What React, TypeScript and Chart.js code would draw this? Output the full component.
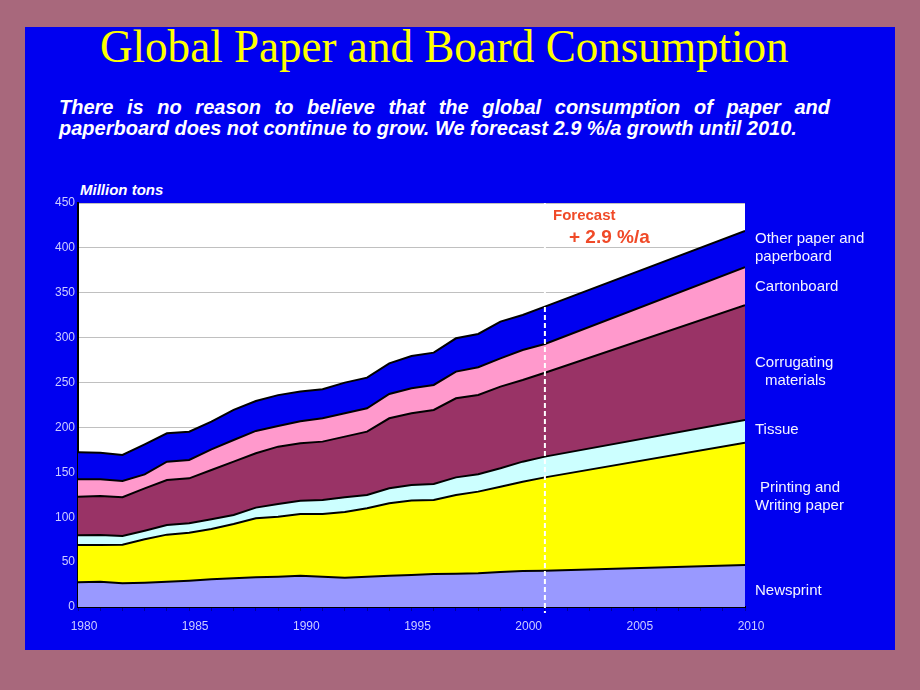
import React, { useEffect, useRef } from "react";
import { Chart, registerables } from "chart.js";
Chart.register(...registerables);

const years = [1980, 1981, 1982, 1983, 1984, 1985, 1986, 1987, 1988, 1989, 1990, 1991, 1992, 1993, 1994, 1995, 1996, 1997, 1998, 1999, 2000, 2001, 2010];
const newsprint = [27.5, 28.2, 26.4, 27.1, 28.2, 29.3, 30.8, 31.9, 33.0, 33.8, 34.9, 33.8, 32.7, 33.8, 34.9, 35.6, 36.8, 37.1, 37.5, 39.0, 40.1, 40.5, 46.8];
const printingWriting = [41.6, 40.9, 43.0, 48.3, 52.4, 53.5, 56.1, 60.6, 65.8, 66.8, 68.6, 69.8, 73.1, 76.1, 80.6, 82.9, 82.4, 87.7, 91.0, 95.0, 99.5, 103.9, 136.2];
const tissue = [10.7, 11.1, 9.7, 9.6, 10.7, 10.4, 10.8, 10.0, 11.9, 14.1, 14.8, 15.6, 16.4, 14.9, 16.7, 17.4, 17.8, 19.6, 19.3, 20.5, 22.3, 23.1, 25.3];
const corrugating = [43.1, 43.5, 43.1, 47.2, 50.2, 50.1, 54.9, 59.4, 60.5, 63.9, 64.2, 65.0, 67.6, 70.5, 78.0, 79.8, 82.5, 88.1, 88.4, 91.0, 91.0, 93.5, 127.9];
const cartonboard = [19.3, 18.5, 18.2, 15.5, 20.4, 20.5, 23.0, 24.1, 24.9, 23.0, 24.5, 26.0, 25.9, 26.0, 27.1, 27.9, 27.8, 29.7, 30.8, 31.5, 33.4, 32.0, 42.2];
const otherPaper = [30.1, 29.7, 28.9, 33.5, 31.6, 31.5, 30.9, 33.5, 33.4, 34.4, 33.0, 32.3, 34.2, 34.2, 34.1, 36.0, 36.0, 37.1, 37.1, 40.9, 39.0, 41.6, 40.6];
const forecastYear = 2001;
const seriesNames = ["Newsprint", "Printing and Writing paper", "Tissue", "Corrugating materials", "Cartonboard", "Other paper and paperboard"];

const BLUE = "#0000f0";
const colors = ["#9999ff", "#ffff00", "#ccffff", "#993366", "#ff99cc", BLUE];
const FONT = "'Liberation Sans', Arial, sans-serif";

export default function App() {
  const ref = useRef<HTMLCanvasElement | null>(null);
  useEffect(() => {
    const series = [newsprint, printingWriting, tissue, corrugating, cartonboard, otherPaper];
    const bgPlugin = {
      id: "plotBg",
      beforeDraw(chart: any) {
        const { ctx, chartArea } = chart;
        ctx.save();
        ctx.fillStyle = "#ffffff";
        ctx.fillRect(chartArea.left, chartArea.top, chartArea.right - chartArea.left, chartArea.bottom - chartArea.top);
        ctx.restore();
      },
    };
    const dashPlugin = {
      id: "forecastLine",
      afterDatasetsDraw(chart: any) {
        const { ctx, chartArea } = chart;
        const x = chart.scales.x.getPixelForValue(forecastYear);
        ctx.save();
        ctx.strokeStyle = "#ffffff";
        ctx.lineWidth = 2;
        ctx.setLineDash([5, 3]);
        ctx.beginPath();
        ctx.moveTo(x, chartArea.top);
        ctx.lineTo(x, chartArea.bottom + 6);
        ctx.stroke();
        ctx.restore();
      },
    };
    const chart = new Chart(ref.current as HTMLCanvasElement, {
      type: "line",
      data: {
        datasets: series.map((arr, i) => ({
          label: seriesNames[i],
          data: years.map((y, j) => ({ x: y, y: arr[j] })),
          backgroundColor: colors[i],
          borderColor: "#000000",
          borderWidth: 2,
          pointRadius: 0,
          tension: 0,
          fill: i === 0 ? "origin" : "-1",
        })),
      },
      options: {
        animation: false,
        responsive: false,
        layout: { padding: { left: 0, right: 150, top: 53, bottom: 0 } },
        plugins: { legend: { display: false }, tooltip: { enabled: false } },
        scales: {
          x: {
            type: "linear",
            min: 1980,
            max: 2010,
            afterFit: (s: any) => { s.height = 33; },
            afterBuildTicks: (s: any) => {
              const t = [];
              for (let v = 1980; v <= 2010; v++) t.push({ value: v });
              s.ticks = t;
            },
            ticks: {
              autoSkip: false,
              maxRotation: 0,
              labelOffset: 6,
              padding: 8,
              color: "#ccccff",
              font: { family: FONT, size: 12 },
              callback: (v: any) => (Number(v) % 5 === 0 ? String(v) : ""),
            },
            grid: { drawOnChartArea: false, drawTicks: true, tickLength: 4, color: "#00009a" },
            border: { color: "#000000", width: 2 },
          },
          y: {
            stacked: true,
            min: 0,
            max: 450,
            afterFit: (s: any) => { s.width = 53; },
            ticks: { stepSize: 50, padding: 3, color: "#ccccff", font: { family: FONT, size: 12 } },
            grid: { color: "#c0c0c0", drawTicks: false },
            border: { color: "#000000", width: 2 },
          },
        },
      },
      plugins: [bgPlugin, dashPlugin],
    } as any);
    return () => chart.destroy();
  }, []);

  const abs = (o: any) => ({ position: "absolute" as const, margin: 0, whiteSpace: "nowrap" as const, ...o });
  const label = { fontFamily: FONT, fontSize: 15, lineHeight: "18px", color: "#f4f4ff" };
  const sub = { fontFamily: FONT, fontWeight: "bold", fontStyle: "italic", fontSize: 20, lineHeight: "21px", color: "#ffffff" };

  return (
    <div style={{ position: "absolute", left: 0, top: 0, width: 920, height: 690, background: "#a8687c", overflow: "hidden" }}>
      <div style={abs({ left: 25, top: 27, width: 870, height: 623, background: BLUE })} />
      <div style={abs({ left: 100, top: 22, fontFamily: "'Liberation Serif', 'Times New Roman', serif", fontSize: 46, lineHeight: "50px", color: "#ffff00", transform: "scaleX(0.98)", transformOrigin: "left top" })}>
        Global Paper and Board Consumption
      </div>
      <div style={abs({ left: 59, top: 96.5, width: 771, ...sub, textAlign: "justify", textAlignLast: "justify", whiteSpace: "normal" })}>
        There is no reason to believe that the global consumption of paper and
      </div>
      <div style={abs({ left: 59, top: 117.5, ...sub })}>
        paperboard does not continue to grow. We forecast 2.9 %/a growth until 2010.
      </div>
      <div style={abs({ left: 80, top: 181, fontFamily: FONT, fontWeight: "bold", fontStyle: "italic", fontSize: 15, lineHeight: "17px", color: "#ffffff" })}>
        Million tons
      </div>
      <canvas ref={ref} width={870} height={490} style={{ position: "absolute", left: 25, top: 150, width: 870, height: 490 }} />
      <div style={abs({ left: 553, top: 206, fontFamily: FONT, fontWeight: "bold", fontSize: 15, lineHeight: "18px", color: "#f04a28" })}>Forecast</div>
      <div style={abs({ left: 569, top: 226, fontFamily: FONT, fontWeight: "bold", fontSize: 19, lineHeight: "22px", color: "#f04a28" })}>+ 2.9 %/a</div>
      <div style={abs({ left: 755, top: 229, ...label })}>Other paper and<br />paperboard</div>
      <div style={abs({ left: 755, top: 276.5, ...label })}>Cartonboard</div>
      <div style={abs({ left: 755, top: 352.5, ...label })}>Corrugating<br /><span style={{ paddingLeft: 10 }}>materials</span></div>
      <div style={abs({ left: 755, top: 420, ...label })}>Tissue</div>
      <div style={abs({ left: 755, top: 477.5, ...label })}><span style={{ paddingLeft: 5 }}>Printing and</span><br />Writing paper</div>
      <div style={abs({ left: 755, top: 581, ...label })}>Newsprint</div>
    </div>
  );
}
